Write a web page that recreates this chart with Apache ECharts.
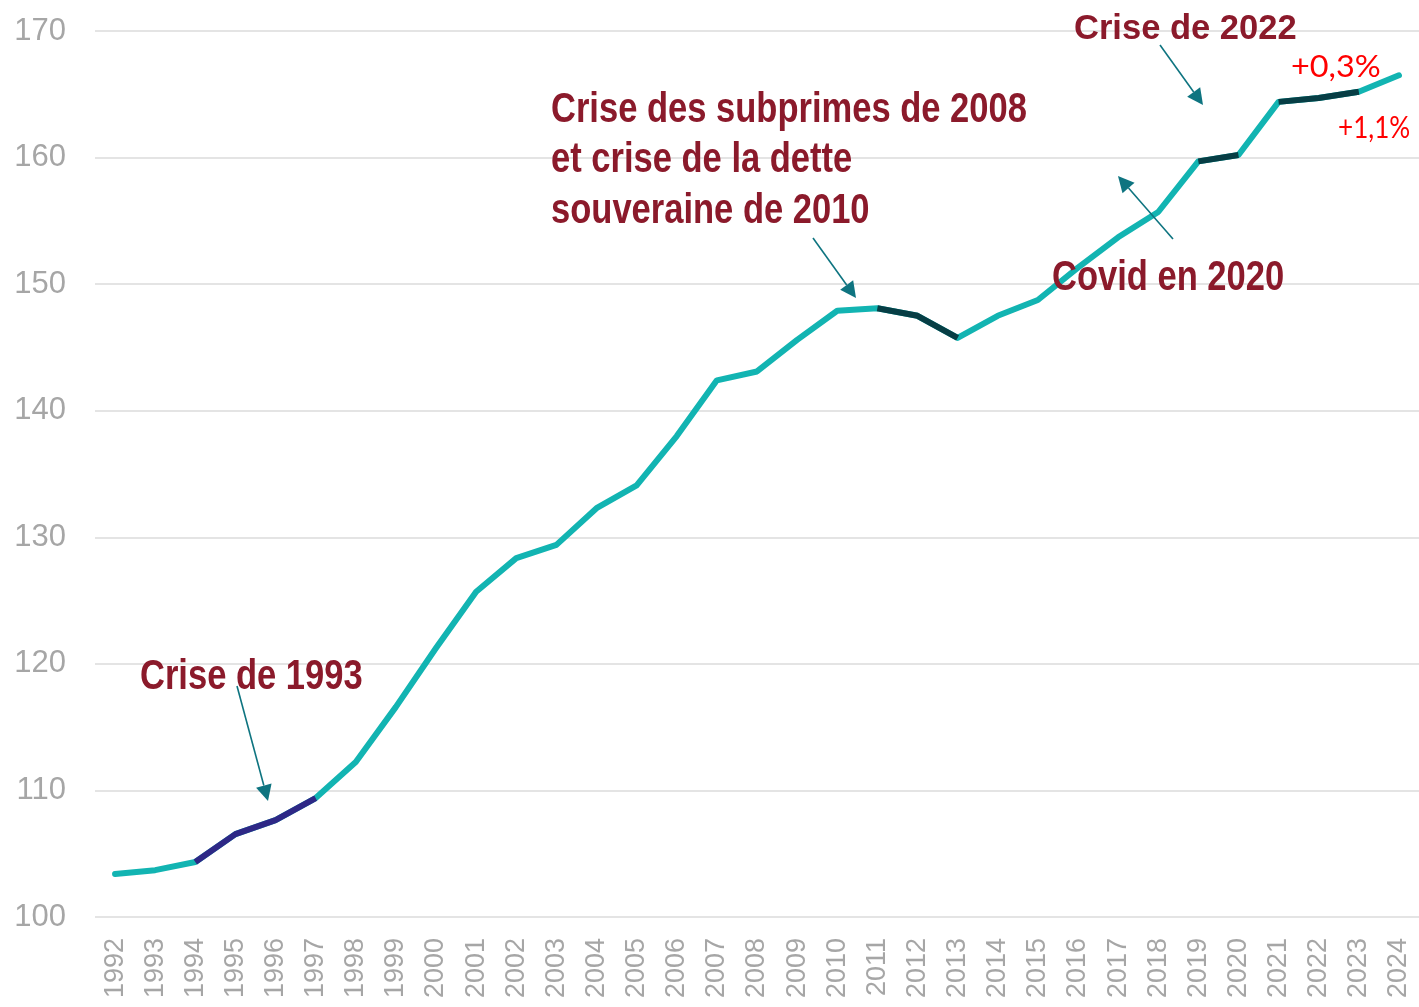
<!DOCTYPE html>
<html><head><meta charset="utf-8">
<script src="https://cdn.jsdelivr.net/npm/echarts@6/dist/echarts.min.js"></script>
<style>html,body{margin:0;padding:0;background:#fff}#c{width:1419px;height:1007px}</style>
</head><body><div id="c"></div>
<script>
const years = ['1992','1993','1994','1995','1996','1997','1998','1999','2000','2001','2002','2003','2004','2005','2006','2007','2008','2009','2010','2011','2012','2013','2014','2015','2016','2017','2018','2019','2020','2021','2022','2023','2024'];
const values = [103.4,103.7,104.35,106.55,107.65,109.4,112.25,116.6,121.25,125.7,128.35,129.4,132.3,134.1,138.0,142.4,143.1,145.6,147.9,148.1,147.5,145.75,147.5,148.75,151.3,153.7,155.7,159.7,160.2,164.4,164.7,165.2,166.5];
const yTicks = [100,110,120,130,140,150,160,170];
// crisis segments [startYear, endYear]
const crisisSegments = [['1994','1997'],['2011','2013'],['2019','2020'],['2021','2023']];
const crisisTexts = [['Crise de 1993'],['Crise des subprimes de 2008','et crise de la dette','souveraine de 2010'],['Covid en 2020'],['Crise de 2022']];
const growthTexts = ['+0,3%','+1,1%'];

// layout (pixel placement of annotations)
const segColors = ['#2E2886','#073E45','#073E45','#073E45'];
const textPos = [{x:140,y:656,sy:1},{x:551,y:89,sy:1},{x:1052,y:257,sy:1},{x:1074,y:11,sy:0.85}];
const arrows = [[237,686,268,801],[813,238,856,298],[1160,45,1203,105],[1173,239,1118,176]];
const growthPos = [{x:1291,y:52,sx:1.08},{x:1338,y:113,sx:0.87}];

const teal = '#12B4B2';
const series = [{
  type:'line', data: values, symbol:'none', lineStyle:{color:teal,width:6,cap:'round',join:'round'}, z:2, silent:true
}];
crisisSegments.forEach((s,k)=>{
  const i0 = years.indexOf(s[0]), i1 = years.indexOf(s[1]);
  series.push({type:'line', symbol:'none', silent:true, z:3,
    data: values.map((v,i)=> (i>=i0 && i<=i1) ? v : null),
    lineStyle:{color:segColors[k],width:6,join:'round'}});
});

const graphics = [];
crisisTexts.forEach((lines,k)=>{
  const p = textPos[k];
  lines.forEach((t,j)=>{
    graphics.push({type:'text', x:p.x, y:p.y + j*50.5, scaleX:0.822, scaleY:p.sy, z:10,
      style:{text:t, fill:'#8B1A2B', fontSize:42, fontWeight:'bold', fontFamily:'"Liberation Sans",Arial,sans-serif', verticalAlign:'top', align:'left'}});
  });
});
arrows.forEach(a=>{
  const [x1,y1,x2,y2] = a;
  const dx=x2-x1, dy=y2-y1, L=Math.hypot(dx,dy), ux=dx/L, uy=dy/L;
  const hl=16, hw=8;
  const bx=x2-ux*hl, by=y2-uy*hl;
  graphics.push({type:'line', z:11, shape:{x1:x1,y1:y1,x2:bx,y2:by}, style:{stroke:'#0E7480',lineWidth:1.6}});
  graphics.push({type:'polygon', z:11, shape:{points:[[x2,y2],[bx-uy*hw,by+ux*hw],[bx+uy*hw,by-ux*hw]]}, style:{fill:'#0E7480'}});
});
growthTexts.forEach((t,k)=>{
  const g = growthPos[k];
  graphics.push({type:'text', x:g.x, y:g.y, scaleX:g.sx, z:10,
    style:{text:t, fill:'#FF0000', fontSize:30, fontWeight:'normal', fontFamily:'Lato,"Open Sans",sans-serif', verticalAlign:'top', align:'left'}});
});

const chart = echarts.init(document.getElementById('c'), null, {renderer:'canvas'});
chart.setOption({
  animation:false,
  grid:{left:95,right:0,top:31,bottom:90,containLabel:false},
  xAxis:{type:'category', data:years, boundaryGap:true,
    axisLine:{show:false}, axisTick:{show:false},
    axisLabel:{rotate:90, interval:0, color:'#A6A6A6', fontSize:27, fontFamily:'"Liberation Sans",Arial,sans-serif', margin:21}},
  yAxis:{type:'value', min:100, max:170, interval:10,
    axisLine:{show:false}, axisTick:{show:false},
    splitLine:{lineStyle:{color:'#E4E4E4',width:2}},
    axisLabel:{color:'#A6A6A6', fontSize:31, fontFamily:'"Liberation Sans",Arial,sans-serif', margin:29,
      formatter:v=> yTicks.includes(v) ? String(v) : ''}},
  series: series,
  graphic: graphics
});
</script></body></html>
